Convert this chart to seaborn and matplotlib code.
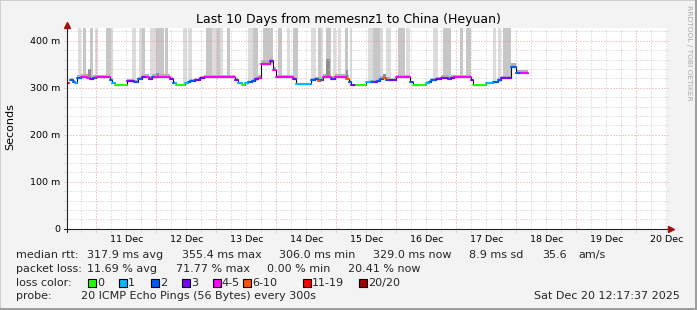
import numpy as np
import pandas as pd
import matplotlib
matplotlib.use("Agg")
import matplotlib.pyplot as plt
import matplotlib.transforms as mtransforms
from matplotlib.patches import Rectangle
import seaborn as sns

# ---------------- data (time = hours since 10 Dec 00:00, rtt in ms) ----------------
seg_start = [12.3, 13.0, 13.5, 14.7, 15.5, 16.3, 17.9, 20.3, 21.5, 22.7,
             23.7, 29.6, 30.3, 31.6, 36.3, 39.0, 40.7, 42.3, 43.5, 45.0,
             46.3, 47.5, 53.6, 54.6, 55.3, 55.9, 59.5, 60.7, 61.5, 63.5,
             65.5, 67.1, 79.5, 80.7, 82.3, 83.5, 84.7, 86.3, 87.5, 88.7,
             89.9, 93.5, 94.7, 95.9, 102.7, 103.9, 109.9, 111.5, 112.7, 113.5,
             114.7, 117.9, 119.4, 124.0, 125.0, 126.0, 128.0, 132.0, 133.4, 135.4,
             136.3, 137.5, 138.7, 140.0, 141.4, 144.0, 149.4, 150.7, 155.9, 157.1,
             157.9, 159.9, 161.9, 164.6, 165.9, 167.2, 173.9, 174.6, 179.9, 182.6,
             184.6, 185.9, 189.9, 191.9, 193.9]
data_end = 196.6
seg_rtt = [309, np.nan, 316, 313, 309, 320, 323, 321, 319, 321,
           323, 316, 310, 306, 315, 312, 318, 322, 323, 319,
           322, 323, 318, 311, 309, 306, 310, 312, 314, 317,
           321, 323, 317, 309, 306, 311, 312, 315, 318, 320,
           350, 356, 338, 323, 318, 307, 316, 318, 315, 316,
           323, 318, 323, 318, 312, 306, 306, 312, 312, 313,
           315, 318, 320, 316, 316, 323, 312, 306, 311, 313,
           316, 318, 321, 318, 321, 323, 316, 306, 309, 312,
           316, 320, 345, 331, 331]
seg_loss = [6, -1, 2, 2, 1, 2, 4, 4, 3, 2,
            4, 2, 1, 0, 3, 2, 2, 3, 4, 3,
            2, 4, 3, 2, 1, 0, 1, 2, 2, 3,
            3, 4, 3, 1, 0, 1, 2, 2, 3, 4,
            4, 3, 4, 4, 3, 1, 2, 2, 5, 2,
            4, 3, 4, 5, 2, 3, 0, 1, 2, 3,
            2, 2, 5, 2, 3, 4, 2, 0, 1, 2,
            2, 3, 3, 2, 3, 4, 3, 0, 1, 2,
            2, 3, 2, 2, 4]
seg_smoke = [2, 0, 5, 4, 3, 6, 6, 8, 6, 5,
             5, 5, 3, 1, 4, 4, 5, 5, 6, 6,
             8, 6, 5, 3, 2, 1, 2, 3, 4, 4,
             4, 5, 4, 2, 1, 2, 3, 4, 5, 6,
             8, 8, 6, 5, 4, 1, 5, 5, 8, 6,
             6, 6, 6, 8, 4, 2, 1, 3, 4, 4,
             5, 6, 8, 6, 5, 5, 3, 1, 3, 4,
             5, 5, 6, 6, 6, 5, 3, 1, 2, 3,
             4, 5, 8, 6, 6]

# tall smoke (outlier pings above the graph top)
bar_start = [16.7, 18.7, 21.5, 23.3, 27.9, 29.7, 38.3, 41.2, 42.3, 45.6,
             47.9, 51.6, 58.7, 60.7, 67.9, 70.3, 72.3, 73.5, 76.3, 84.7,
             86.7, 90.7, 96.7, 100.3, 102.7, 109.9, 112.7, 113.9, 115.9, 118.7,
             120.7, 123.5, 125.5, 132.7, 134.7, 137.5, 139.9, 144.7, 147.9, 158.7,
             162.7, 169.5, 171.9, 182.7, 184.5, 186.7]
bar_end = [17.9, 19.9, 22.7, 24.5, 29.7, 30.6, 39.9, 42.3, 43.6, 47.9,
           51.0, 52.7, 60.3, 62.3, 70.3, 72.3, 73.3, 74.7, 77.5, 86.5,
           88.7, 94.7, 98.3, 101.5, 104.7, 111.9, 113.9, 114.7, 117.9, 119.9,
           121.9, 124.7, 126.3, 134.7, 137.5, 138.7, 141.9, 147.5, 149.5, 160.7,
           165.9, 170.7, 173.9, 183.9, 185.9, 189.9]
bar_shade = [1, 2, 2, 1, 2, 1, 1, 1, 2, 1,
             2, 2, 1, 1, 2, 1, 2, 1, 2, 1,
             2, 2, 2, 1, 2, 1, 2, 1, 2, 1,
             1, 2, 1, 1, 2, 1, 1, 2, 1, 1,
             2, 2, 2, 1, 1, 2]

# darker smoke blobs
blob_start = [20.5, 47.9, 115.9, 124.0, 138.7]
blob_end = [22.0, 49.0, 117.5, 124.7, 139.9]
blob_top = [340, 331, 362, 338, 330]

loss_labels = ["0", "1", "2", "3", "4-5", "6-10", "11-19", "20/20"]
loss_colors = ["#26ff00", "#00b8ff", "#0059ff", "#7e00ff", "#ff00ff",
               "#ff5500", "#ff0000", "#a10000"]

y_ticks = [0, 100, 200, 300, 400]
y_labels = ["0", "100 m", "200 m", "300 m", "400 m"]
day_labels = ["11 Dec", "12 Dec", "13 Dec", "14 Dec", "15 Dec",
              "16 Dec", "17 Dec", "18 Dec", "19 Dec", "20 Dec"]

# ---------------- figure ----------------
sns.set_theme(style="white")
plt.rcParams["font.family"] = ["DejaVu Sans"]

W, H = 697, 310
fig = plt.figure(figsize=(W / 100, H / 100), dpi=100, facecolor="#f3f3f3")


def fx(px):
    return px / W


def fy(py):
    return 1 - py / H


AX_L, AX_R, AX_T, AX_B = 67, 667, 28.3, 228.7
ax = fig.add_axes([fx(AX_L), fy(AX_B), (AX_R - AX_L) / W, (AX_B - AX_T) / H])
ax.set_facecolor("white")
T0 = 12 + 17 / 60 + 37 / 3600
YTOP = 426.4
ax.set_xlim(T0, T0 + 240)
ax.set_ylim(0, YTOP)
for s in ax.spines.values():
    s.set_visible(False)
ax.set_xticks([])
ax.set_yticks([])

starts = np.array(seg_start)
ends = np.append(starts[1:], data_end)
rtt = np.array(seg_rtt, dtype=float)
valid = ~np.isnan(rtt)

# tall outlier smoke bars
bs = np.array(bar_start)
be = np.array(bar_end)
idx = np.searchsorted(starts, bs, side="right") - 1
bottoms = rtt[idx]
shade_col = {1: "#dcdcdc", 2: "#c6c6c6"}
ax.bar(bs, YTOP + 5 - bottoms, width=be - bs, bottom=bottoms, align="edge",
       color=[shade_col[s] for s in bar_shade], linewidth=0, zorder=1)

# smoke around the median
sm = np.array(seg_smoke, dtype=float)
ax.bar(starts[valid], sm[valid] + 2, width=(ends - starts)[valid],
       bottom=rtt[valid] - 2, align="edge", color="#b0b0b0", linewidth=0, zorder=1.5)
bls = np.array(blob_start)
ble = np.array(blob_end)
bidx = np.searchsorted(starts, bls, side="right") - 1
ax.bar(bls, np.array(blob_top) - rtt[bidx], width=ble - bls, bottom=rtt[bidx],
       align="edge", color="#8e8e8e", linewidth=0, zorder=1.6)

# grid (RRDtool style, drawn over the smoke)
minor_dash = (0, (1, 2))
xmin_g = np.arange(18, 253, 6)
xmaj_g = np.arange(24, 253, 24)
ext_y = 3 / (AX_B - AX_T)
ext_x = 3 / (AX_R - AX_L)
for xv in xmin_g:
    if xv % 24 == 0:
        continue
    ax.plot([xv, xv], [-ext_y, 1.0], transform=ax.get_xaxis_transform(),
            color="#c8c8c8", lw=0.72, ls=minor_dash, clip_on=False, zorder=2)
for xv in xmaj_g:
    ax.plot([xv, xv], [-ext_y, 1.0], transform=ax.get_xaxis_transform(),
            color="#e89a9a", lw=0.72, ls=minor_dash, clip_on=False, zorder=2.1)
for yv in np.arange(20, 421, 20):
    if yv % 100 == 0:
        continue
    ax.plot([-ext_x, 1.0 + 1 / 600], [yv, yv], transform=ax.get_yaxis_transform(),
            color="#c8c8c8", lw=0.72, ls=minor_dash, clip_on=False, zorder=2)
for yv in [100, 200, 300, 400]:
    ax.plot([-ext_x, 1.0 + 1 / 600], [yv, yv], transform=ax.get_yaxis_transform(),
            color="#e89a9a", lw=0.72, ls=minor_dash, clip_on=False, zorder=2.1)

# black median step line
vs = starts[valid]
vr = rtt[valid]
line_df = pd.DataFrame({"t": np.append(vs[1:], data_end),
                        "rtt": np.append(vr[1:], vr[-1])})
sns.lineplot(data=line_df, x="t", y="rtt", ax=ax, color="#111111", lw=0.8,
             drawstyle="steps-post", estimator=None, sort=False, zorder=3, legend=False)

# coloured loss segments
rows = []
for i in range(len(starts)):
    if not valid[i]:
        continue
    lab = loss_labels[seg_loss[i]]
    rows.append({"t": starts[i], "rtt": rtt[i], "loss": lab, "seg": i})
    rows.append({"t": ends[i], "rtt": rtt[i], "loss": lab, "seg": i})
seg_df = pd.DataFrame(rows)
pal = dict(zip(loss_labels, loss_colors))
sns.lineplot(data=seg_df, x="t", y="rtt", hue="loss", units="seg", estimator=None,
             palette=pal, lw=1.5, ax=ax, legend=False, zorder=4, sort=False)
ax.set_xlabel("")
ax.set_ylabel("")

# axes with arrows
ax.plot([-ext_x, 1 + 6 / 600], [0, 0], transform=ax.transAxes, color="#222222",
        lw=0.8, clip_on=False, zorder=5)
ax.plot([0, 0], [-ext_y, 1 + 5 / 200.4], transform=ax.transAxes, color="#222222",
        lw=0.8, clip_on=False, zorder=5)
ax.plot([1 + 4 / 600], [0], marker=">", ms=4.5, color="#a01010", mec="#a01010",
        transform=ax.transAxes, clip_on=False, zorder=6)
ax.plot([0], [1 + 3.5 / 200.4], marker="^", ms=4.5, color="#a01010", mec="#a01010",
        transform=ax.transAxes, clip_on=False, zorder=6)

# tick labels
ytr = mtransforms.offset_copy(ax.get_yaxis_transform(), fig=fig, x=0, y=-3.7, units="dots")
for v, lab in zip(y_ticks, y_labels):
    ax.text(-6.7 / 600, v, lab, transform=ytr, ha="right", va="baseline",
            fontsize=6.8, color="black")
noons = np.arange(36, 253, 24)
xtr = mtransforms.offset_copy(ax.get_xaxis_transform(), fig=fig, x=0, y=-13.0, units="dots")
for v, lab in zip(noons, day_labels):
    ax.text(v, 0, lab, transform=xtr, ha="center", va="baseline", fontsize=6.8,
            color="black")

# titles
fig.text(fx(348.5), fy(23), "Last 10 Days from memesnz1 to China (Heyuan)",
         ha="center", va="baseline", fontsize=9, color="black")
fig.text(fx(10), fy(126.7), "Seconds", rotation=90, ha="center", va="center",
         fontsize=8, color="black")
fig.text(fx(688.5), fy(5), "RRDTOOL / TOBI OETIKER", rotation=270, ha="center",
         va="top", fontsize=5.4, color="#aaaaaa")

# legend text
FS = 8
b1, b2, b3, b4 = 258.3, 271.8, 285.6, 298.6
for x, s in [(16, "median rtt:"), (87.3, "317.9 ms avg"), (181.7, "355.4 ms max"),
             (279.3, "306.0 ms min"), (373.3, "329.0 ms now"), (469.3, "8.9 ms sd"),
             (541.7, "35.6"), (578.3, "am/s")]:
    fig.text(fx(x), fy(b1), s, ha="left", va="baseline", fontsize=FS)
for x, s in [(16, "packet loss:"), (87.3, "11.69 % avg"), (175.7, "71.77 % max"),
             (266.7, "0.00 % min"), (348.3, "20.41 % now")]:
    fig.text(fx(x), fy(b2), s, ha="left", va="baseline", fontsize=FS)
fig.text(fx(16), fy(b3), "loss color:", ha="left", va="baseline", fontsize=FS)
sw_x = [88.3, 119.3, 150.7, 181.7, 212.7, 243.3, 303.3, 359.3]
for x, lab, col in zip(sw_x, loss_labels, loss_colors):
    fig.add_artist(Rectangle((fx(x), fy(286.7)), 8 / W, 8 / H, transform=fig.transFigure,
                             facecolor=col, edgecolor="black", lw=0.8))
    fig.text(fx(x + 9), fy(b3), lab, ha="left", va="baseline", fontsize=FS)
fig.text(fx(16), fy(b4), "probe:", ha="left", va="baseline", fontsize=FS)
fig.text(fx(80.7), fy(b4), "20 ICMP Echo Pings (56 Bytes) every 300s", ha="left",
         va="baseline", fontsize=FS)
fig.text(fx(680), fy(b4), "Sat Dec 20 12:17:37 2025", ha="right", va="baseline",
         fontsize=FS)

# 3D frame
fig.add_artist(Rectangle((0, 0), 1, 2 / H, transform=fig.transFigure,
                         facecolor="#9e9e9e", lw=0))
fig.add_artist(Rectangle((1 - 2 / W, 0), 2 / W, 1, transform=fig.transFigure,
                         facecolor="#9e9e9e", lw=0))
fig.add_artist(Rectangle((0, 1 - 1 / H), 1 - 2 / W, 1 / H, transform=fig.transFigure,
                         facecolor="#cfcfcf", lw=0))
fig.add_artist(Rectangle((0, 2 / H), 1 / W, 1 - 3 / H, transform=fig.transFigure,
                         facecolor="#cfcfcf", lw=0))

fig.savefig("out.png", dpi=100, facecolor=fig.get_facecolor())
